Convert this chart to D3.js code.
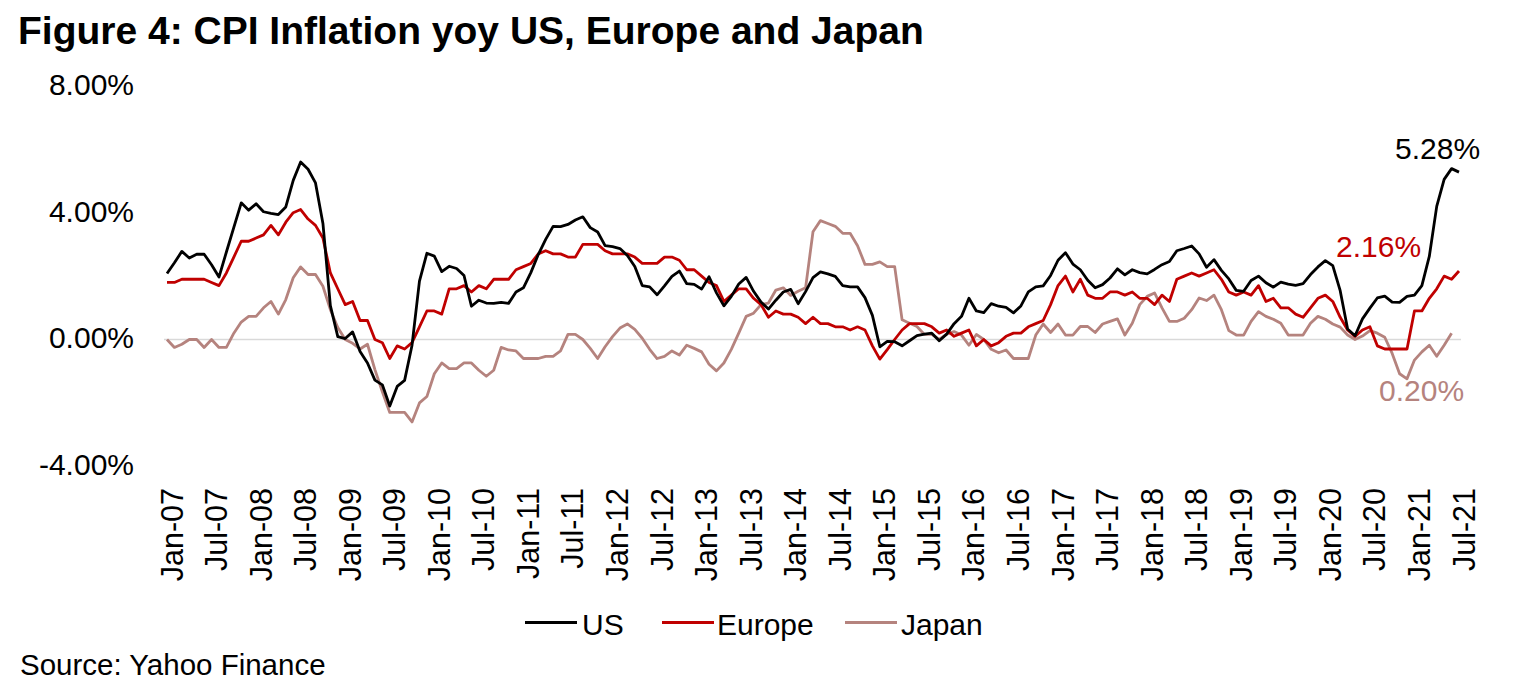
<!DOCTYPE html>
<html><head><meta charset="utf-8">
<script src="https://cdn.jsdelivr.net/npm/d3@7"></script>
<style>
body{margin:0;background:#fff;}
text{font-family:"Liberation Sans",Arial,Helvetica,sans-serif;}
</style>
</head><body>
<svg id="chart" width="1533" height="698"></svg>
<script>
// ---- data (monthly, Jan-07 .. Jul-21) ----
const tickLabels = ["Jan-07","Jul-07","Jan-08","Jul-08","Jan-09","Jul-09","Jan-10","Jul-10","Jan-11","Jul-11",
  "Jan-12","Jul-12","Jan-13","Jul-13","Jan-14","Jul-14","Jan-15","Jul-15","Jan-16","Jul-16",
  "Jan-17","Jul-17","Jan-18","Jul-18","Jan-19","Jul-19","Jan-20","Jul-20","Jan-21","Jul-21"];
const seriesNames = ["US","Europe","Japan"];
const usValues = [
  2.08,2.42,2.78,2.57,2.69,2.69,2.36,1.97,2.76,3.54,4.31,4.08,
  4.28,4.03,3.98,3.94,4.18,5.02,5.60,5.37,4.94,3.66,1.07,0.09,
  0.03,0.24,-0.38,-0.74,-1.28,-1.43,-2.10,-1.48,-1.29,-0.18,1.84,2.72,
  2.63,2.14,2.31,2.24,2.02,1.05,1.24,1.15,1.14,1.17,1.14,1.50,
  1.63,2.11,2.68,3.16,3.57,3.56,3.63,3.77,3.87,3.53,3.39,2.96,
  2.93,2.87,2.65,2.30,1.70,1.66,1.41,1.69,1.99,2.16,1.76,1.74,
  1.59,1.98,1.47,1.06,1.36,1.75,1.96,1.52,1.18,0.96,1.24,1.50,
  1.58,1.13,1.51,1.95,2.13,2.07,1.99,1.70,1.66,1.66,1.32,0.76,
  -0.23,-0.06,-0.07,-0.20,-0.04,0.12,0.17,0.20,-0.04,0.17,0.50,0.73,
  1.30,0.90,0.85,1.13,1.05,1.01,0.84,1.06,1.50,1.66,1.69,2.02,
  2.50,2.74,2.38,2.20,1.87,1.63,1.73,1.94,2.23,2.04,2.20,2.11,
  2.07,2.21,2.36,2.46,2.80,2.87,2.95,2.70,2.28,2.52,2.18,1.91,
  1.55,1.52,1.86,2.00,1.79,1.65,1.81,1.75,1.71,1.76,2.05,2.29,
  2.49,2.33,1.54,0.33,0.12,0.65,0.99,1.31,1.37,1.18,1.17,1.36,
  1.40,1.70,2.62,4.20,5.05,5.39,5.28];
const europeValues = [
  1.8,1.8,1.9,1.9,1.9,1.9,1.8,1.7,2.1,2.6,3.1,3.1,
  3.2,3.3,3.6,3.3,3.7,4.0,4.1,3.8,3.6,3.2,2.1,1.6,
  1.1,1.2,0.6,0.6,0.0,-0.1,-0.6,-0.2,-0.3,-0.1,0.4,0.9,
  0.9,0.8,1.6,1.6,1.7,1.5,1.7,1.6,1.9,1.9,1.9,2.2,
  2.3,2.4,2.7,2.8,2.7,2.7,2.6,2.6,3.0,3.0,3.0,2.8,
  2.7,2.7,2.7,2.6,2.4,2.4,2.4,2.6,2.6,2.5,2.2,2.2,
  2.0,1.8,1.7,1.2,1.4,1.6,1.6,1.3,1.1,0.7,0.9,0.8,
  0.8,0.7,0.5,0.7,0.5,0.5,0.4,0.4,0.3,0.4,0.3,-0.2,
  -0.62,-0.32,0.0,0.3,0.5,0.5,0.5,0.4,0.2,0.3,0.1,0.2,
  0.3,-0.2,0.0,-0.2,-0.1,0.1,0.2,0.2,0.4,0.5,0.6,1.1,
  1.7,2.0,1.5,1.9,1.4,1.3,1.3,1.5,1.5,1.4,1.5,1.3,
  1.3,1.1,1.4,1.2,1.9,2.0,2.1,2.0,2.1,2.2,1.9,1.5,
  1.4,1.5,1.4,1.7,1.2,1.3,1.0,1.0,0.8,0.7,1.0,1.3,
  1.4,1.2,0.7,0.3,0.1,0.3,0.4,-0.2,-0.3,-0.3,-0.3,-0.3,
  0.9,0.9,1.3,1.6,2.0,1.9,2.16];
const japanValues = [
  0.0,-0.25,-0.15,0.0,0.0,-0.25,0.0,-0.25,-0.25,0.2,0.55,0.73,
  0.73,1.0,1.2,0.8,1.26,1.95,2.29,2.05,2.05,1.68,0.94,0.38,
  0.0,-0.12,-0.3,-0.15,-0.95,-1.65,-2.3,-2.3,-2.3,-2.6,-2.0,-1.8,
  -1.08,-0.74,-0.92,-0.92,-0.74,-0.74,-0.97,-1.16,-0.97,-0.25,-0.33,-0.36,
  -0.6,-0.6,-0.6,-0.53,-0.53,-0.36,0.16,0.16,0.0,-0.28,-0.6,-0.23,
  0.09,0.36,0.49,0.32,0.04,-0.31,-0.6,-0.53,-0.36,-0.49,-0.18,-0.28,
  -0.39,-0.78,-0.99,-0.74,-0.31,0.2,0.73,0.83,1.1,1.15,1.56,1.63,
  1.39,1.52,1.63,3.4,3.75,3.66,3.57,3.35,3.35,2.96,2.37,2.37,
  2.45,2.3,2.3,0.62,0.51,0.41,0.16,0.16,0.0,0.17,0.25,0.14,
  -0.18,0.16,0.0,-0.31,-0.42,-0.33,-0.6,-0.6,-0.6,0.14,0.49,0.22,
  0.49,0.14,0.14,0.41,0.41,0.22,0.49,0.57,0.65,0.14,0.51,1.1,
  1.36,1.47,1.0,0.57,0.57,0.67,0.94,1.31,1.23,1.4,0.94,0.28,
  0.14,0.14,0.57,0.88,0.73,0.64,0.51,0.14,0.14,0.14,0.51,0.73,
  0.64,0.49,0.39,0.14,0.0,0.11,0.28,0.2,0.07,-0.44,-1.08,-1.24,
  -0.65,-0.39,-0.18,-0.53,-0.18,0.20];
const yTicks = [-4, 0, 4, 8];
const endLabels = ["5.28%","2.16%","0.20%"];

// ---- styles ----
const colors = {US:"#000000", Europe:"#C00000", Japan:"#B5837E"};
const W = 1533, H = 698;
const svg = d3.select("#chart");
svg.append("rect").attr("width",W).attr("height",H).attr("fill","#fff");

const nMonths = usValues.length;
const x = d3.scaleLinear().domain([0, nMonths-1]).range([167, 1459]);
const y = d3.scaleLinear().domain([-4, 8]).range([466.3, 85.9]);

// title
svg.append("text").attr("x",18).attr("y",44)
  .attr("font-size",39).attr("font-weight","bold").attr("fill","#000")
  .text("Figure 4: CPI Inflation yoy US, Europe and Japan");

// zero line
svg.append("line").attr("x1",x(0)-3).attr("x2",x(nMonths-1)+2)
  .attr("y1",y(0)).attr("y2",y(0)).attr("stroke","#D9D9D9").attr("stroke-width",1.5);

// y axis labels
const fmt = v => (v<0?"-":"") + Math.abs(v).toFixed(2) + "%";
const yAxis = d3.axisLeft(y).tickValues(yTicks).tickSize(0).tickPadding(0).tickFormat(fmt);
const gy = svg.append("g").attr("transform","translate(134,0)").call(yAxis);
gy.select(".domain").remove();
gy.selectAll("text").attr("font-size",30).attr("fill","#000")
  .attr("font-family",'"Liberation Sans",Arial,sans-serif').attr("dy","0.28em");

// x axis labels
const tickIdx = tickLabels.map((d,i)=>i*6);
const xAxis = d3.axisBottom(x).tickValues(tickIdx).tickSize(0).tickFormat((d,i)=>tickLabels[i]);
const gx = svg.append("g").attr("transform","translate(0,488)").call(xAxis);
gx.select(".domain").remove();
gx.selectAll("text").attr("font-size",30.5).attr("fill","#000")
  .attr("font-family",'"Liberation Sans",Arial,sans-serif')
  .attr("text-anchor","end").attr("x",0).attr("y",15)
  .attr("dy",null).attr("transform","rotate(-90)");

// lines
const line = d3.line().x((d,i)=>x(i)).y(d=>y(d)).curve(d3.curveLinear);
const seriesData = {US:usValues, Europe:europeValues, Japan:japanValues};
["Japan","Europe","US"].forEach(name=>{
  svg.append("path").datum(seriesData[name]).attr("d",line)
    .attr("fill","none").attr("stroke",colors[name]).attr("stroke-width",2.8)
    .attr("stroke-linejoin","round");
});

// end labels
svg.append("text").attr("x",x(nMonths-1)-64).attr("y",158.5).attr("font-size",30)
  .attr("fill",colors.US).text(endLabels[0]);
svg.append("text").attr("x",x(nMonths-1)-123).attr("y",257).attr("font-size",30)
  .attr("fill",colors.Europe).text(endLabels[1]);
svg.append("text").attr("x",x(nMonths-1)-80).attr("y",400.5).attr("font-size",30)
  .attr("fill",colors.Japan).text(endLabels[2]);

// legend
const legendPos = [{name:"US",x1:525,tx:582},{name:"Europe",x1:662,tx:717},{name:"Japan",x1:845,tx:901}];
legendPos.forEach(l=>{
  svg.append("line").attr("x1",l.x1).attr("x2",l.x1+52).attr("y1",622.5).attr("y2",622.5)
    .attr("stroke",colors[l.name]).attr("stroke-width",3);
  svg.append("text").attr("x",l.tx).attr("y",634.5).attr("font-size",30).attr("fill","#000").text(l.name);
});

// source
svg.append("text").attr("x",20).attr("y",675).attr("font-size",29.5).attr("fill","#000")
  .text("Source: Yahoo Finance");
</script>
</body></html>
